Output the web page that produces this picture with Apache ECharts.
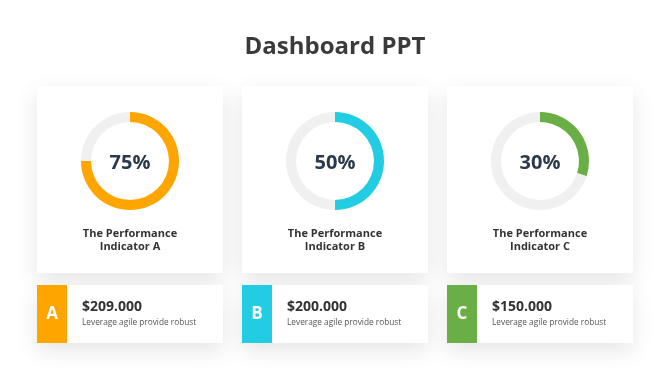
<!DOCTYPE html>
<html><head><meta charset="utf-8">
<script src="https://cdn.jsdelivr.net/npm/echarts@6/dist/echarts.min.js"></script>
<style>html,body{margin:0;padding:0;background:#fff}#c{width:670px;height:376px}</style>
</head><body><div id="c"></div>
<script>
const categories = ['The Performance\nIndicator A', 'The Performance\nIndicator B', 'The Performance\nIndicator C'];
const percents = [75, 50, 30];
const letters = ['A', 'B', 'C'];
const amounts = ['$209.000', '$200.000', '$150.000'];
const subtitles = ['Leverage agile provide robust', 'Leverage agile provide robust', 'Leverage agile provide robust'];
const colors = ['#FFA500', '#22CCE2', '#6AAF45'];

const chart = echarts.init(document.getElementById('c'));
const font = '"Open Sans", "Noto Sans", sans-serif';
const centers = [130, 335, 540];
const graphics = [];
const series = [];
graphics.push({type:'text', left:'center', top:35, style:{text:'Dashboard PPT', font:'bold 24px ' + font, fill:'#3a3a3a'}});
centers.forEach((cx, i) => {
  graphics.push({type:'rect', z:-1, shape:{x:cx-93, y:86, width:186, height:187},
    style:{fill:'#fff', shadowBlur:22, shadowOffsetY:8, shadowColor:'rgba(0,0,0,0.10)'}});
  graphics.push({type:'rect', z:-1, shape:{x:cx-93, y:285, width:186, height:58},
    style:{fill:'#fff', shadowBlur:22, shadowOffsetY:8, shadowColor:'rgba(0,0,0,0.10)'}});
  graphics.push({type:'rect', shape:{x:cx-93, y:285, width:30, height:58}, style:{fill:colors[i]}});
  graphics.push({type:'text', x:cx-78, y:314, style:{text:letters[i], font:'bold 17px ' + font, fill:'#fff', align:'center', verticalAlign:'middle'}});
  graphics.push({type:'text', x:cx-48, y:307, style:{text:amounts[i], font:'bold 14px ' + font, fill:'#333', verticalAlign:'middle'}});
  graphics.push({type:'text', x:cx-48, y:323, style:{text:subtitles[i], font:'8.3px ' + font, fill:'#555', verticalAlign:'middle'}});
  graphics.push({type:'text', x:cx, y:163, z:10, style:{text:percents[i] + '%', font:'bold 20px ' + font, fill:'#2b3a4a', align:'center', verticalAlign:'middle'}});
  graphics.push({type:'text', x:cx, y:240, style:{text:categories[i], font:'bold 11px ' + font, fill:'#333', align:'center', verticalAlign:'middle', lineHeight:13}});
  series.push({type:'pie', center:[cx, 161], radius:[39, 49], startAngle:90, clockwise:true,
    silent:true, label:{show:false}, labelLine:{show:false}, animation:false,
    data:[{value:percents[i], itemStyle:{color:colors[i]}}, {value:100-percents[i], itemStyle:{color:'#F0F0F0'}}]});
});
chart.setOption({backgroundColor:'#fff', animation:false, graphic:graphics, series:series});
</script></body></html>
